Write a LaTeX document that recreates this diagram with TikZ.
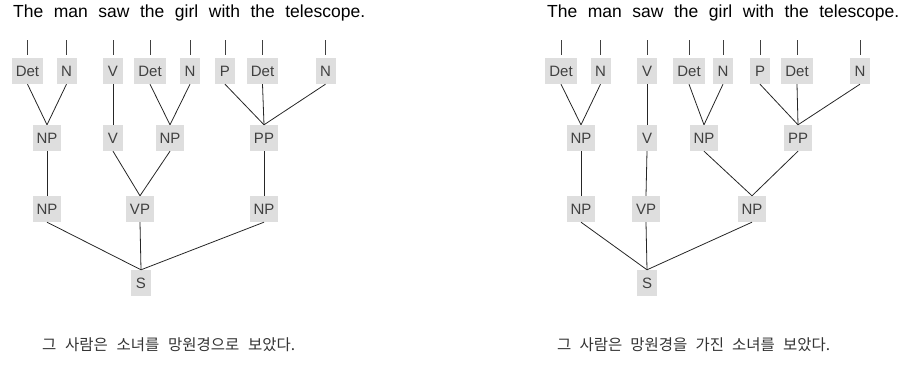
\documentclass[tikz,border=0pt]{standalone}
\usepackage{fontspec}
\setmainfont{Liberation Sans}
\newfontfamily\kr{Noto Sans CJK KR}
\definecolor{boxgray}{HTML}{DEDEDE}
\definecolor{labgray}{HTML}{404040}
\definecolor{krgray}{HTML}{333333}
\begin{document}
\begin{tikzpicture}[x=1pt,y=-1pt,
  cat/.style={fill=boxgray,text=labgray,font=\fontsize{15}{15}\selectfont,
    inner xsep=4pt,inner ysep=0pt,minimum height=26pt,minimum width=20pt,text height=11pt,text depth=0pt},
  br/.style={line width=0.8pt,black!85},
  tick/.style={line width=0.8pt,black!75},
  sent/.style={anchor=west,inner sep=0pt,font=\fontsize{17.5}{17.5}\selectfont},
  kor/.style={anchor=west,inner sep=0pt,text=krgray,font=\kr\fontsize{15.5}{15.5}\selectfont}]
\useasboundingbox (0,0) rectangle (903,374);
% ---------- left tree ----------
\node[sent] (sL) at (13,13) {\makebox[352pt][s]{The man saw the girl with the telescope.}};
\node[cat] (Ld1) at (27.5,71) {Det};
\node[cat] (Ln1) at (66.5,71) {N};
\node[cat] (Lv1) at (113,71) {V};
\node[cat] (Ld2) at (150,71) {Det};
\node[cat] (Ln2) at (190,71) {N};
\node[cat] (Lp1) at (225,71) {P};
\node[cat] (Ld3) at (262.5,71) {Det};
\node[cat] (Ln3) at (325.5,71) {N};
\node[cat] (Lnp1) at (47,138) {NP};
\node[cat] (Lv2) at (113,138) {V};
\node[cat] (Lnp2) at (170,138) {NP};
\node[cat] (Lpp) at (264,138) {PP};
\node[cat] (Lnp3) at (47,209) {NP};
\node[cat] (Lvp) at (140,209) {VP};
\node[cat] (Lnp4) at (264,209) {NP};
\node[cat] (LS) at (141,283) {S};
\foreach \n in {Ld1,Ln1,Lv1,Ld2,Ln2,Lp1,Ld3,Ln3}
  \draw[tick] ([yshift=3pt]\n.north) -- ([yshift=18pt]\n.north);
\draw[br] (Ld1.south) -- (Lnp1.north);
\draw[br] (Ln1.south) -- (Lnp1.north);
\draw[br] (Lv1.south) -- (Lv2.north);
\draw[br] (Ld2.south) -- (Lnp2.north);
\draw[br] (Ln2.south) -- (Lnp2.north);
\draw[br] (Lp1.south) -- (Lpp.north);
\draw[br] (Ld3.south) -- (Lpp.north);
\draw[br] (Ln3.south) -- (Lpp.north);
\draw[br] (Lnp1.south) -- (Lnp3.north);
\draw[br] (Lv2.south) -- (Lvp.north);
\draw[br] (Lnp2.south) -- (Lvp.north);
\draw[br] (Lpp.south) -- (Lnp4.north);
\draw[br] (Lnp3.south) -- (LS.north);
\draw[br] (Lvp.south) -- (LS.north);
\draw[br] (Lnp4.south) -- (LS.north);
\node[kor] (kL) at (42,345) {\makebox[253pt][s]{그 사람은 소녀를 망원경으로 보았다.}};
% ---------- right tree ----------
\node[sent] (sR) at (547,13) {\makebox[352pt][s]{The man saw the girl with the telescope.}};
\node[cat] (Rd1) at (561,71) {Det};
\node[cat] (Rn1) at (600.5,71) {N};
\node[cat] (Rv1) at (647,71) {V};
\node[cat] (Rd2) at (689,71) {Det};
\node[cat] (Rn2) at (723,71) {N};
\node[cat] (Rp1) at (760,71) {P};
\node[cat] (Rd3) at (797,71) {Det};
\node[cat] (Rn3) at (860,71) {N};
\node[cat] (Rnp1) at (581,138) {NP};
\node[cat] (Rv2) at (647,138) {V};
\node[cat] (Rnp2) at (704,138) {NP};
\node[cat] (Rpp) at (798,138) {PP};
\node[cat] (Rnp3) at (581,209) {NP};
\node[cat] (Rvp) at (646,209) {VP};
\node[cat] (Rnp4) at (752,209) {NP};
\node[cat] (RS) at (647,283) {S};
\foreach \n in {Rd1,Rn1,Rv1,Rd2,Rn2,Rp1,Rd3,Rn3}
  \draw[tick] ([yshift=3pt]\n.north) -- ([yshift=18pt]\n.north);
\draw[br] (Rd1.south) -- (Rnp1.north);
\draw[br] (Rn1.south) -- (Rnp1.north);
\draw[br] (Rv1.south) -- (Rv2.north);
\draw[br] (Rd2.south) -- (Rnp2.north);
\draw[br] (Rn2.south) -- (Rnp2.north);
\draw[br] (Rp1.south) -- (Rpp.north);
\draw[br] (Rd3.south) -- (Rpp.north);
\draw[br] (Rn3.south) -- (Rpp.north);
\draw[br] (Rnp1.south) -- (Rnp3.north);
\draw[br] (Rv2.south) -- (Rvp.north);
\draw[br] (Rnp2.south) -- (Rnp4.north);
\draw[br] (Rpp.south) -- (Rnp4.north);
\draw[br] (Rnp3.south) -- (RS.north);
\draw[br] (Rvp.south) -- (RS.north);
\draw[br] (Rnp4.south) -- (RS.north);
\node[kor] (kR) at (557,345) {\makebox[273pt][s]{그 사람은 망원경을 가진 소녀를 보았다.}};
\end{tikzpicture}
\end{document}
